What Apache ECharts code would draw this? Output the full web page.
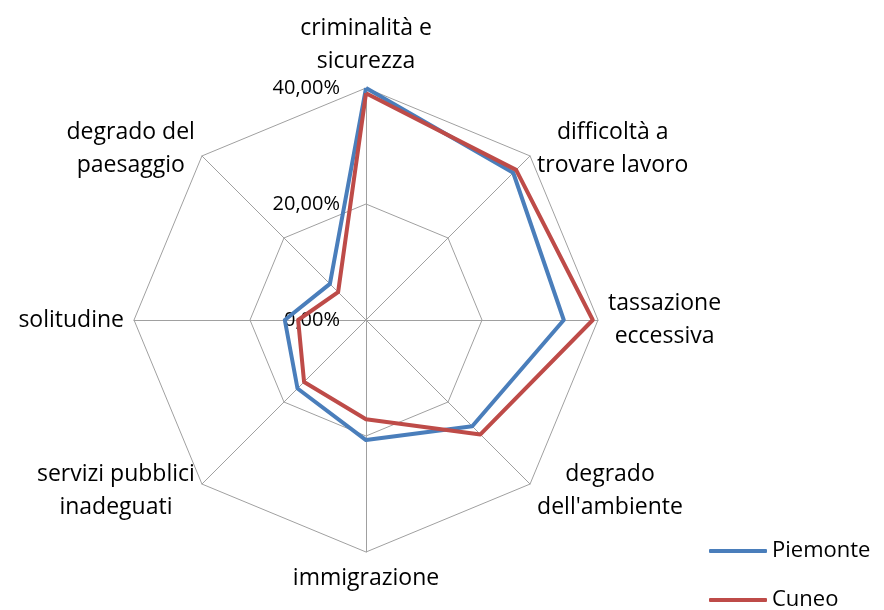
<!DOCTYPE html>
<html>
<head>
<meta charset="utf-8">
<script src="https://cdn.jsdelivr.net/npm/echarts@6/dist/echarts.min.js"></script>
<style>html,body{margin:0;padding:0;background:#fff}#c{width:884px;height:610px}</style>
</head>
<body>
<div id="c"></div>
<script>
// Categories in drawing order (ECharts radar goes counter-clockwise from the top)
var categories = ['criminalità e\nsicurezza', 'degrado del\npaesaggio', 'solitudine', 'servizi pubblici\ninadeguati', 'immigrazione', 'degrado\ndell\'ambiente', 'tassazione\neccessiva', 'difficoltà a\ntrovare lavoro'];
var piemonte = [40.0, 8.8, 14.0, 16.7, 20.7, 25.9, 34.1, 35.9];
var cuneo = [39.1, 6.8, 11.7, 15.1, 17.1, 27.9, 39.1, 36.6];
var seriesNames = ['Piemonte', 'Cuneo'];
var axisMax = 40;
var axisStep = 20;

var FONT = 'Open Sans';
function legendFor(name, top) {
  return {
    orient: 'vertical',
    left: 709,
    top: top,
    padding: 0,
    itemWidth: 58,
    itemHeight: 4,
    icon: 'roundRect',
    textStyle: { fontFamily: FONT, fontSize: 22, color: '#000' },
    data: [name]
  };
}
var chart = echarts.init(document.getElementById('c'));
chart.setOption({
  animation: false,
  color: ['#4A7EBB', '#BE4B48'],
  legend: [legendFor(seriesNames[0], 540), legendFor(seriesNames[1], 589)],
  radar: {
    center: [366, 320],
    radius: 232,
    startAngle: 90,
    shape: 'polygon',
    splitNumber: axisMax / axisStep,
    indicator: categories.map(function (c) { return { name: c, min: 0, max: axisMax }; }),
    axisName: {
      color: '#000',
      fontFamily: FONT,
      fontSize: 23,
      formatter: function (n) { return '{n|' + n + '}'; },
      rich: { n: { align: 'center', fontFamily: FONT, fontSize: 23, lineHeight: 33, color: '#000' } }
    },
    nameGap: 10,
    axisLine: { lineStyle: { color: '#a0a0a0', width: 1 } },
    splitLine: { lineStyle: { color: '#a0a0a0', width: 1 } },
    splitArea: { show: false },
    axisTick: { show: false },
    axisLabel: { show: false }
  },
  polar: { center: [366, 320], radius: 232 },
  angleAxis: { startAngle: 90, show: false, type: 'value', min: 0, max: 360 },
  radiusAxis: {
    min: 0, max: axisMax, interval: axisStep,
    axisLine: { show: false }, axisTick: { show: false }, splitLine: { show: false },
    axisLabel: {
      margin: 26,
      fontFamily: FONT, fontSize: 20, color: '#000',
      formatter: function (v) { return v.toFixed(2).replace('.', ',') + '%'; }
    }
  },
  series: [{
    type: 'radar',
    symbol: 'none',
    data: [
      { name: seriesNames[0], value: piemonte, lineStyle: { width: 4, color: '#4A7EBB' }, itemStyle: { color: '#4A7EBB' } },
      { name: seriesNames[1], value: cuneo, lineStyle: { width: 4, color: '#BE4B48' }, itemStyle: { color: '#BE4B48' } }
    ]
  }]
});
</script>
</body>
</html>
